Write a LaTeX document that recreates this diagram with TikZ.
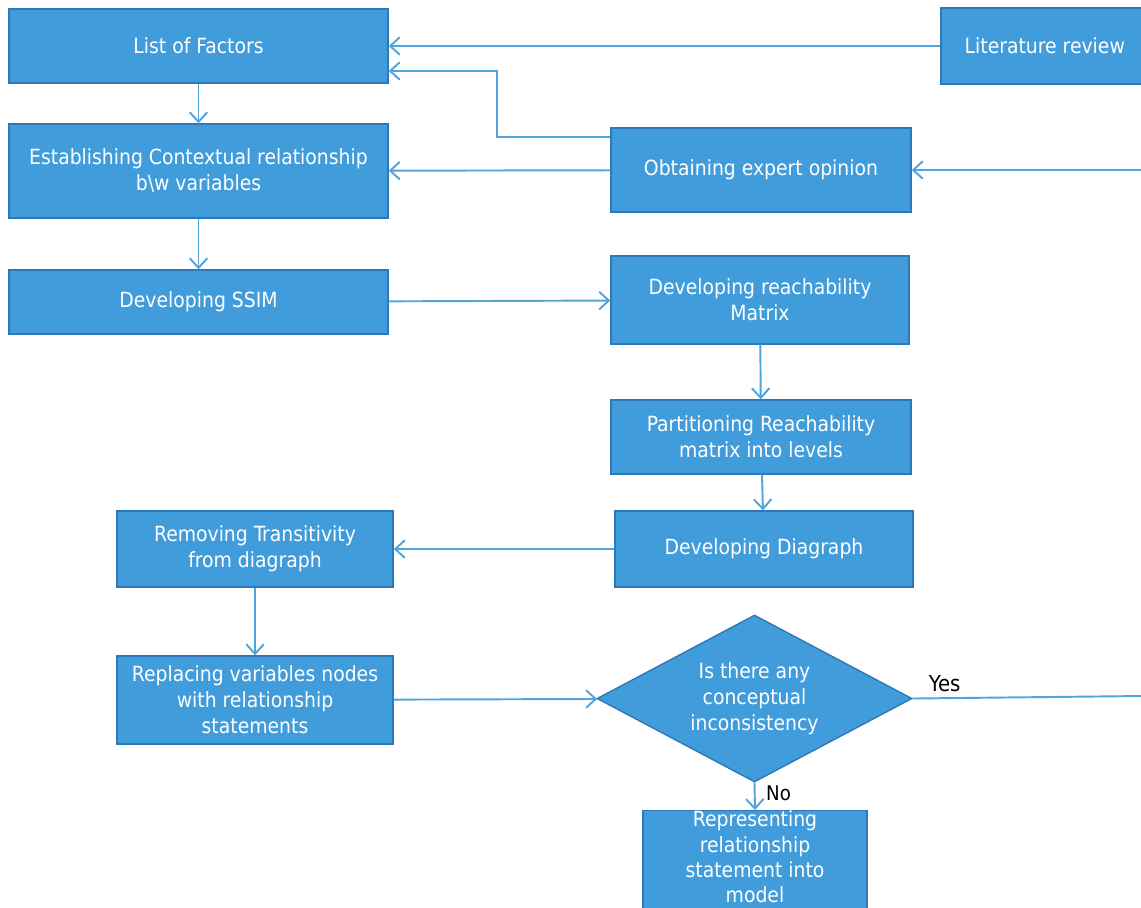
\documentclass[tikz,border=0pt]{standalone}
\usepackage{fontspec}
\setmainfont{DejaVu Sans Condensed}
\usepackage{xcolor}
\usetikzlibrary{arrows.meta,shapes.geometric}

\definecolor{boxfill}{HTML}{419CDB}
\definecolor{boxline}{HTML}{2F78B8}
\definecolor{arrowline}{HTML}{52A4DE}

\tikzset{
	stepbox/.style={draw=boxline,fill=boxfill,line width=0.8pt,text=white,align=center,
		inner sep=0pt,font=\fontsize{11.9}{14.8}\selectfont},
	decision/.style={diamond,draw=boxline,fill=boxfill,line width=0.8pt,text=white,align=center,
		inner sep=0pt,aspect=1.9,font=\fontsize{11.9}{14.8}\selectfont},
	flow/.style={-{Straight Barb[length=5.5pt,width=10pt,line width=1.1pt]},draw=arrowline,line width=1.1pt},
}

\begin{document}
\begin{tikzpicture}[x=0.02cm,y=-0.02cm]
		\clip (0,0) rectangle (1141,907);
		\fill[white] (0,0) rectangle (1141,907);
		% boxes
		\node[stepbox,minimum width=379*0.02cm,minimum height=74*0.02cm] (factors) at (198.5,46) {List of Factors};
		\node[stepbox,minimum width=240*0.02cm,minimum height=76*0.02cm] (litrev) at (1061,46) {\hspace*{-0.65cm}Literature review};
		\node[stepbox,minimum width=379*0.02cm,minimum height=94*0.02cm] (context) at (198.5,171) {Establishing Contextual relationship\\b\textbackslash w variables};
		\node[stepbox,minimum width=300*0.02cm,minimum height=84*0.02cm] (expert) at (761,170) {Obtaining expert opinion};
		\node[stepbox,minimum width=379*0.02cm,minimum height=64*0.02cm] (ssim) at (198.5,302) {Developing SSIM};
		\node[stepbox,minimum width=298*0.02cm,minimum height=88*0.02cm] (reach) at (760,300) {Developing reachability\\Matrix};
		\node[stepbox,minimum width=300*0.02cm,minimum height=74*0.02cm] (partition) at (761,437) {Partitioning Reachability\\matrix into levels};
		\node[stepbox,minimum width=298*0.02cm,minimum height=76*0.02cm] (diagraph) at (764,549) {Developing Diagraph};
		\node[stepbox,minimum width=276*0.02cm,minimum height=76*0.02cm] (transit) at (255,549) {Removing Transitivity\\from diagraph};
		\node[stepbox,minimum width=276*0.02cm,minimum height=88*0.02cm] (replace) at (255,700) {Replacing variables nodes\\with relationship\\statements};
		\node[decision,minimum width=315*0.02cm,minimum height=167*0.02cm] (check) at (754.5,698.5) {Is there any\\conceptual\\inconsistency};
		\node[stepbox,minimum width=224*0.02cm,minimum height=104*0.02cm,anchor=north,text depth=0.24cm,
			font=\fontsize{11.9}{14.4}\selectfont] (represent) at (755,810) {Representing\\relationship\\statement into\\model};
		% free ends
		\coordinate (edgeA) at (1141,170);
		\coordinate (edgeB) at (1141,696);
		\coordinate (bendA) at (497,137);
		\coordinate (bendB) at (497,71);
		%
		\draw[flow] (litrev) -- (factors);
		\draw[flow] (expert.west |- bendA) -- (bendA) -- (bendB) -- (factors.east |- bendB);
		\draw[flow] (expert) -- (context);
		\draw[flow] (edgeA) -- (expert);
		\draw[flow] (factors) -- (context);
		\draw[flow] (context) -- (ssim);
		\draw[flow] (ssim) -- (reach);
		\draw[flow] (reach) -- (partition);
		\draw[flow] (partition) -- (diagraph);
		\draw[flow] (diagraph) -- (transit);
		\draw[flow] (transit) -- (replace);
		\draw[flow] (replace) -- (check);
		\draw[draw=arrowline,line width=1.1pt] (check.east) -- node[above,pos=0.14,font=\fontsize{12.5}{14}\selectfont]{Yes} (edgeB);
		\draw[flow] (check.south) -- node[right,pos=0.4,font=\fontsize{11.5}{14}\selectfont,inner sep=3pt,xshift=3pt]{No} (represent.north);
	\end{tikzpicture}
\end{document}
